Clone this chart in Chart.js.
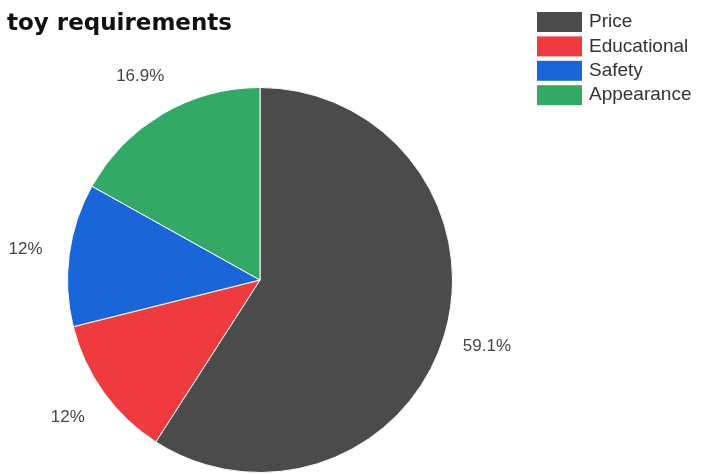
<html><head>
    <title>toy requirements</title>
    <meta charset="UTF-8">
    <script src="https://cdn.jsdelivr.net/npm/chart.js"></script>
    <style>
        html, body {
            margin: 0;
            padding: 0;
            background-color: #fff;
        }
        #toy-pie {
            display: block;
        }
    </style>
</head>
<body>
    <canvas id="toy-pie" width="706" height="475"></canvas>

    <script>
        // Survey shares, in percent
        const categories = ['Price', 'Educational', 'Safety', 'Appearance'];
        const shares = [59.1, 12, 12, 16.9];
        const sliceColors = ['#4b4b4b', '#ef3b3f', '#1a66d8', '#34a866'];
        const chartTitle = 'toy requirements';

        // Title and legend boxes in the top corners
        const headerPlugin = {
            id: 'header',
            afterDraw(chart) {
                const ctx = chart.ctx;
                ctx.save();
                ctx.fillStyle = '#111';
                ctx.font = 'bold 23px "DejaVu Sans", sans-serif';
                ctx.textAlign = 'left';
                ctx.textBaseline = 'alphabetic';
                ctx.fillText(chartTitle, 7, 30);

                ctx.font = '19px "Liberation Sans", Arial, sans-serif';
                ctx.textBaseline = 'middle';
                categories.forEach((name, i) => {
                    const top = 12 + i * 24.4;
                    ctx.fillStyle = sliceColors[i];
                    ctx.fillRect(537, top, 45, 20);
                    ctx.fillStyle = '#333';
                    ctx.fillText(name, 589, top + 10);
                });
                ctx.restore();
            }
        };

        // Percent labels just outside each slice
        const outsideLabels = {
            id: 'outsideLabels',
            afterDatasetsDraw(chart) {
                const ctx = chart.ctx;
                const meta = chart.getDatasetMeta(0);
                ctx.save();
                ctx.font = '17px "Liberation Sans", Arial, sans-serif';
                ctx.fillStyle = '#444';
                ctx.textAlign = 'center';
                ctx.textBaseline = 'middle';
                meta.data.forEach((arc, i) => {
                    const p = arc.getProps(['x', 'y', 'startAngle', 'endAngle', 'outerRadius'], true);
                    const mid = (p.startAngle + p.endAngle) / 2;
                    const r = p.outerRadius + 44;
                    ctx.fillText(shares[i] + '%', p.x + Math.cos(mid) * r, p.y + Math.sin(mid) * r);
                });
                ctx.restore();
            }
        };

        new Chart(document.getElementById('toy-pie'), {
            type: 'pie',
            data: {
                labels: categories,
                datasets: [{
                    data: shares,
                    backgroundColor: sliceColors,
                    borderColor: '#ffffff',
                    borderWidth: 1
                }]
            },
            options: {
                responsive: false,
                animation: false,
                devicePixelRatio: 1,
                layout: {
                    padding: {top: 87, bottom: 2, left: 67, right: 253}
                },
                plugins: {
                    legend: {display: false},
                    title: {display: false},
                    tooltip: {enabled: false}
                }
            },
            plugins: [outsideLabels, headerPlugin]
        });
    </script>
</body></html>
